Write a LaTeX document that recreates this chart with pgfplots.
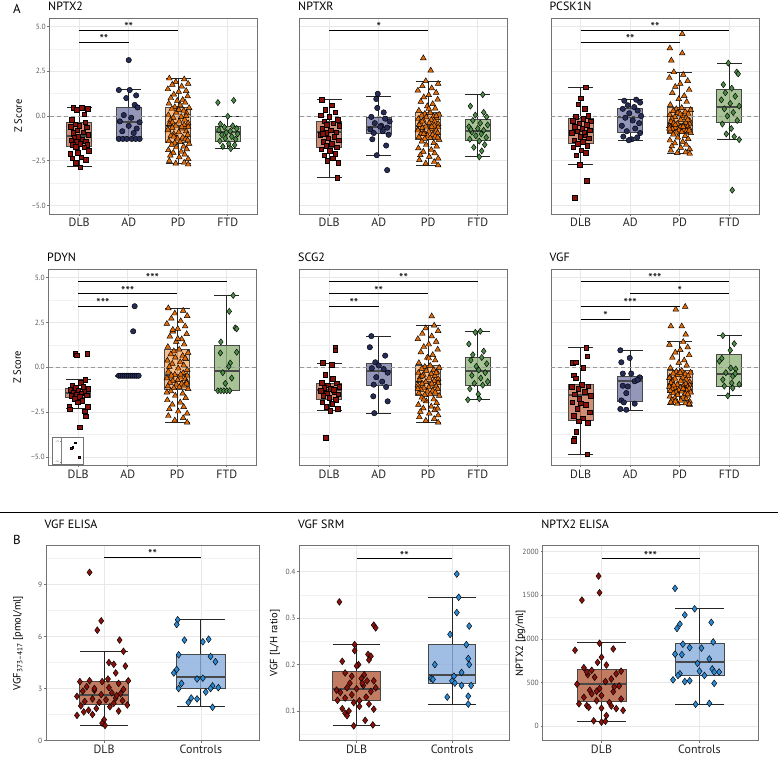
\documentclass[border=0pt]{standalone}
\usepackage{fontspec}
\setmainfont{PT Sans}
\usepackage{pgfplots}
\pgfplotsset{compat=1.18}

\definecolor{dlbfill}{RGB}{196,114,84}
\definecolor{dlbfillB}{RGB}{179,91,59}
\definecolor{dlbpt}{RGB}{139,18,10}
\definecolor{adfill}{RGB}{121,124,169}
\definecolor{adpt}{RGB}{38,44,88}
\definecolor{pdfill}{RGB}{244,174,111}
\definecolor{pdpt}{RGB}{226,108,8}
\definecolor{ftdfill}{RGB}{146,181,124}
\definecolor{ftdpt}{RGB}{76,142,72}
\definecolor{ctrlfill}{RGB}{136,174,221}
\definecolor{ctrlpt}{RGB}{44,138,212}
\definecolor{boxline}{RGB}{72,72,72}

\pgfplotsset{
  base/.style={
    scale only axis,
    grid=both, tick pos=left,
    every axis title shift=0pt,
    major grid style={draw=black!9, line width=0.7pt},
    minor grid style={draw=black!5, line width=0.5pt},
    axis line style={draw=black!55, line width=0.8pt},
    tick align=outside, major tick length=2.2pt, minor tick length=0pt,
    tick style={draw=black!55, line width=0.6pt},
    x tick label style={font=\fontsize{12}{13}\selectfont, text=black!85, inner sep=2pt},
    y tick label style={font=\fontsize{7.5}{8}\selectfont, text=black!65, inner sep=1.5pt},
    title style={at={(0,1)}, anchor=south west, inner sep=0pt, yshift=7pt, xshift=-1.5pt, font=\fontsize{12}{13}\selectfont},
    ylabel style={font=\fontsize{10.5}{11}\selectfont, anchor=center},
  },
  apanel/.style={base, width=208pt, height=196pt, anchor=south west,
    xmin=0.4, xmax=4.6, ymin=-5.47, ymax=5.47,
    xtick={1,2,3,4}, xticklabels={DLB,AD,PD,FTD},
    ytick={-5,-2.5,0,2.5,5}, minor ytick={-3.75,-1.25,1.25,3.75},
    yticklabels={−5.0,−2.5,0.0,2.5,5.0}},
  noy/.style={yticklabels={}, y tick style={draw=none}},
  bpanel/.style={base, height=195pt, anchor=south west,
    xmin=0.4, xmax=2.6, xtick={1,2}, xticklabels={DLB,Controls},
    title style={yshift=9.5pt}},
  whisk/.style={draw=black!85, line width=0.9pt},
  dlbm/.style={only marks, mark=square*, mark size=2.3pt, mark options={solid, fill=dlbpt, draw=black, line width=0.45pt}},
  adm/.style={only marks, mark=*, mark size=2.7pt, mark options={solid, fill=adpt, draw=black, line width=0.45pt}},
  pdm/.style={only marks, mark=triangle*, mark size=3.3pt, mark options={solid, fill=pdpt, draw=black, line width=0.45pt}},
  ftdm/.style={only marks, mark=diamond*, mark size=3.1pt, mark options={solid, fill=ftdpt, draw=black, line width=0.45pt}},
  bdlbm/.style={only marks, mark=diamond*, mark size=3.4pt, mark options={solid, fill=dlbpt, draw=black, line width=0.45pt}},
  ctrlm/.style={only marks, mark=diamond*, mark size=3.4pt, mark options={solid, fill=ctrlpt, draw=black, line width=0.45pt}},
}

% #1 pos, #2 left, #3 right, #4 fill, #5 lower whisker, #6 Q1, #7 median, #8 Q3, #9 upper whisker
\newcommand{\bx}[9]{%
  \addplot[whisk] coordinates {(#1,#5) (#1,#9)};
  \addplot[whisk] coordinates {(#2,#5) (#3,#5)};
  \addplot[whisk] coordinates {(#2,#9) (#3,#9)};
  \addplot[draw=boxline, line width=0.9pt, fill=#4, fill opacity=0.8] coordinates {(#2,#6) (#3,#6) (#3,#8) (#2,#8)} -- cycle;
  \addplot[draw=boxline, line width=2pt] coordinates {(#2,#7) (#3,#7)};
}
% #1 from, #2 to, #3 mid, #4 y, #5 label
\newcommand{\sig}[5]{%
  \addplot[black, line width=0.85pt] coordinates {(#1,#4) (#2,#4)};
  \node[font=\fontsize{12.5}{12}\selectfont, anchor=south, inner sep=0pt, yshift=-1.5pt] at (axis cs:#3,#4) {#5};
}
\newcommand{\zl}{\addplot[draw=black!40, dash pattern=on 4pt off 3pt, line width=0.9pt] coordinates {(0.4,0) (4.6,0)};}

\begin{document}
\begin{tikzpicture}[x=1pt,y=1pt]
\path[use as bounding box] (0,0) rectangle (778,757);
\node[font=\fontsize{13}{13}\selectfont] at (17,748) {A};
\node[font=\fontsize{13}{13}\selectfont] at (17,217) {B};
\draw[line width=1.2pt] (0,244.3) -- (778,244.3);

%================ NPTX2
\begin{axis}[apanel, at={(49.5pt,543pt)}, title={NPTX2}, ylabel={Z Score}, ylabel style={at={(axis description cs:-0.15,0.5)}}]
\bx{1}{0.75}{1.25}{dlbfill}{-2.8}{-1.69}{-1.13}{-0.35}{0.48}
\bx{2}{1.75}{2.25}{adfill}{-1.28}{-1.28}{-0.35}{0.48}{1.5}
\bx{3}{2.75}{3.25}{pdfill}{-2.65}{-1.47}{-0.54}{0.5}{2.08}
\bx{4}{3.75}{4.25}{ftdfill}{-1.82}{-1.41}{-0.89}{-0.58}{-0.02}
\zl
\sig{1}{3}{2}{4.8}{**}
\sig{1}{2}{1.5}{4.1}{**}
\addplot[dlbm] coordinates {(0.88,0.45)(1.05,0.47)(1.17,0.42)(0.95,0.35)(1.1,0.1)(0.85,-0.2)(1.12,-0.35)(0.92,-0.45)(1.0,-0.55)(0.83,-0.6)(1.15,-0.62)(0.96,-0.8)(1.08,-0.9)(0.88,-1.0)(1.18,-1.05)(0.98,-1.15)(0.9,-1.2)(1.06,-1.3)(0.84,-1.35)(1.13,-1.4)(0.95,-1.45)(1.02,-1.55)(0.87,-1.62)(1.16,-1.6)(0.93,-1.7)(1.1,-1.75)(0.82,-2.1)(0.97,-2.05)(1.19,-1.95)(0.86,-2.35)(1.04,-2.3)(1.13,-2.45)(0.93,-2.6)(1.02,-2.85)(0.88,-0.95)};
\addplot[adm] coordinates {(2.0,3.12)(1.8,1.45)(2.02,1.45)(2.15,1.15)(1.95,1.0)(2.12,0.62)(2.18,0.48)(1.9,0.05)(2.05,-0.1)(1.82,-0.3)(2.22,-0.35)(2.0,-0.55)(2.16,-0.7)(1.87,-0.85)(2.1,-0.95)(1.8,-1.28)(1.88,-1.28)(1.96,-1.28)(2.06,-1.28)(2.14,-1.28)(2.22,-1.28)};
\addplot[pdm] coordinates {(2.82,2.1)(3.12,2.05)(2.95,1.9)(3.2,1.8)(2.88,1.75)(3.07,1.65)(2.79,1.5)(3.16,1.4)(3.01,1.35)(2.91,1.2)(3.19,1.1)(2.85,1.0)(3.09,0.9)(2.98,0.85)(3.14,0.75)(2.81,0.7)(3.04,0.6)(2.93,0.5)(3.22,0.45)(2.87,0.4)(3.11,0.3)(2.96,0.2)(3.17,0.15)(2.8,0.05)(3.06,-0.05)(2.9,-0.1)(3.13,-0.2)(2.84,-0.25)(3.02,-0.3)(3.2,-0.4)(2.82,-0.45)(3.12,-0.5)(2.95,-0.55)(3.2,-0.6)(2.88,-0.65)(3.07,-0.7)(2.79,-0.8)(3.16,-0.85)(3.01,-0.9)(2.91,-1.0)(3.19,-1.05)(2.85,-1.1)(3.09,-1.2)(2.98,-1.25)(3.14,-1.3)(2.81,-1.4)(3.04,-1.45)(2.93,-1.5)(3.22,-1.55)(2.87,-1.6)(3.11,-1.7)(2.96,-1.75)(3.17,-1.85)(2.8,-1.9)(3.06,-2.0)(2.9,-2.05)(3.13,-2.15)(2.84,-2.2)(3.02,-2.3)(3.2,-2.4)(2.82,-2.5)(3.12,-2.6)(2.95,-2.65)(3.2,-2.7)(2.88,-0.35)(3.07,-0.6)(2.79,-0.75)(3.16,0.0)(3.01,0.35)(2.91,-1.15)(3.19,-1.35)};
\addplot[ftdm] coordinates {(3.8,0.75)(4.12,0.87)(4.0,-0.02)(3.85,-0.45)(4.1,-0.55)(3.93,-0.62)(4.18,-0.7)(3.82,-0.78)(4.05,-0.85)(3.97,-0.92)(4.2,-1.0)(3.88,-1.05)(4.08,-1.15)(3.95,-1.25)(4.16,-1.3)(3.84,-1.4)(4.02,-1.55)(4.14,-1.62)(3.9,-1.7)(4.06,-1.82)};
\end{axis}

%================ NPTXR
\begin{axis}[apanel, noy, at={(299.5pt,543pt)}, title={NPTXR}]
\bx{1}{0.75}{1.25}{dlbfill}{-3.45}{-1.78}{-0.91}{-0.3}{0.91}
\bx{2}{1.75}{2.25}{adfill}{-2.19}{-1.0}{-0.61}{-0.07}{1.09}
\bx{3}{2.75}{3.25}{pdfill}{-2.75}{-1.32}{-0.58}{0.17}{1.95}
\bx{4}{3.75}{4.25}{ftdfill}{-2.28}{-1.37}{-0.85}{-0.17}{1.19}
\zl
\sig{1}{3}{2}{4.8}{*}
\addplot[dlbm] coordinates {(0.85,0.9)(1.05,0.6)(0.92,0.35)(1.12,0.2)(0.83,0.05)(1.0,-0.05)(1.17,-0.2)(0.9,-0.3)(1.08,-0.4)(0.95,-0.5)(1.2,-0.55)(0.86,-0.7)(1.03,-0.8)(1.14,-0.9)(0.93,-0.95)(0.82,-1.05)(1.1,-1.15)(0.98,-1.25)(1.19,-1.35)(0.88,-1.45)(1.05,-1.55)(0.94,-1.65)(1.15,-1.75)(0.84,-1.85)(1.01,-1.95)(1.12,-2.1)(0.9,-2.2)(1.07,-2.35)(0.96,-2.5)(1.18,-2.6)(1.16,-3.45)(0.87,-1.0)};
\addplot[adm] coordinates {(1.98,1.24)(1.95,0.95)(1.97,0.45)(2.1,0.2)(1.85,-0.05)(2.13,-0.15)(2.22,-0.3)(1.92,-0.4)(2.05,-0.55)(2.17,-0.65)(1.83,-0.75)(2.08,-0.85)(1.9,-0.95)(2.2,-1.05)(1.87,-1.3)(2.15,-1.65)(1.96,-2.19)(2.17,-3.02)(2.03,-0.6)};
\addplot[pdm] coordinates {(2.9,3.23)(3.05,2.54)(2.95,1.95)(3.2,1.8)(2.88,1.67)(3.07,1.55)(2.79,1.42)(3.16,1.3)(3.01,1.17)(2.91,1.05)(3.19,0.92)(2.85,0.8)(3.09,0.67)(2.98,0.55)(3.14,0.42)(2.81,0.3)(3.04,0.17)(2.93,0.12)(3.22,0.08)(2.87,0.03)(3.11,-0.02)(2.96,-0.07)(3.17,-0.11)(2.8,-0.16)(3.06,-0.21)(2.9,-0.25)(3.13,-0.3)(2.84,-0.35)(3.02,-0.39)(3.2,-0.44)(2.82,-0.49)(3.12,-0.53)(2.95,-0.58)(3.2,-0.63)(2.88,-0.67)(3.07,-0.72)(2.79,-0.77)(3.16,-0.81)(3.01,-0.86)(2.91,-0.9)(3.19,-0.95)(2.85,-1.0)(3.09,-1.04)(2.98,-1.09)(3.14,-1.14)(2.81,-1.18)(3.04,-1.23)(2.93,-1.27)(3.22,-1.32)(2.87,-1.42)(3.11,-1.51)(2.96,-1.61)(3.17,-1.7)(2.8,-1.8)(3.06,-1.89)(2.9,-1.99)(3.13,-2.08)(2.84,-2.18)(3.02,-2.27)(3.2,-2.37)(2.82,-2.46)(3.12,-2.56)(2.95,-2.65)(3.2,-2.75)(2.88,-0.3)(3.07,-0.6)(2.79,-0.8)(3.16,0.0)(3.01,0.4)(2.91,-1.0)(3.19,-1.2)};
\addplot[ftdm] coordinates {(4.1,1.19)(3.85,0.55)(4.12,0.2)(3.95,0.05)(4.18,-0.05)(3.9,-0.25)(4.05,-0.4)(4.2,-0.5)(3.82,-0.6)(4.0,-0.7)(4.12,-0.8)(3.88,-0.9)(4.07,-1.0)(3.96,-1.1)(4.17,-1.2)(3.84,-1.3)(4.03,-1.4)(4.14,-1.6)(3.92,-1.75)(4.08,-1.95)(4.03,-2.28)(3.86,-0.75)};
\end{axis}

%================ PCSK1N
\begin{axis}[apanel, noy, at={(551pt,543pt)}, title={PCSK1N}]
\bx{1}{0.75}{1.25}{dlbfill}{-2.71}{-1.54}{-0.83}{-0.15}{1.61}
\bx{2}{1.75}{2.25}{adfill}{-1.35}{-0.91}{-0.06}{0.41}{0.91}
\bx{3}{2.75}{3.25}{pdfill}{-2.1}{-0.95}{-0.43}{0.45}{2.45}
\bx{4}{3.75}{4.25}{ftdfill}{-1.32}{-0.35}{0.52}{1.5}{2.95}
\zl
\sig{1}{4}{2.5}{4.8}{**}
\sig{1}{3}{2}{4.1}{**}
\addplot[dlbm] coordinates {(1.1,1.61)(1.0,1.0)(0.95,0.65)(1.08,0.4)(1.15,0.0)(0.9,-0.05)(1.05,-0.15)(0.84,-0.25)(1.2,-0.3)(0.97,-0.4)(1.12,-0.5)(0.88,-0.6)(1.03,-0.7)(1.18,-0.8)(0.93,-0.85)(0.82,-0.95)(1.09,-1.05)(0.99,-1.15)(1.16,-1.25)(0.87,-1.35)(1.04,-1.45)(0.94,-1.55)(1.13,-1.65)(0.85,-1.75)(1.01,-1.9)(1.1,-2.05)(0.91,-2.2)(0.98,-2.71)(1.12,-3.62)(0.88,-4.56)(1.07,-0.9)};
\addplot[adm] coordinates {(2.12,0.91)(1.88,0.85)(2.2,0.75)(1.95,0.6)(2.08,0.5)(1.85,0.4)(2.15,0.3)(1.98,0.15)(2.22,0.0)(1.9,-0.1)(2.05,-0.25)(2.18,-0.4)(1.83,-0.55)(2.1,-0.7)(1.93,-0.85)(2.2,-0.95)(1.86,-1.15)(2.03,-1.3)(1.97,-1.35)(2.14,-1.2)};
\addplot[pdm] coordinates {(3.05,4.58)(2.8,3.78)(3.05,3.5)(2.83,3.1)(2.88,2.45)(3.07,2.3)(2.79,2.13)(3.16,1.96)(3.01,1.8)(2.91,1.63)(3.19,1.46)(2.85,1.29)(3.09,1.12)(2.98,0.95)(3.14,0.79)(2.81,0.62)(3.04,0.45)(2.93,0.39)(3.22,0.34)(2.87,0.28)(3.11,0.23)(2.96,0.17)(3.17,0.12)(2.8,0.06)(3.06,0.01)(2.9,-0.05)(3.13,-0.1)(2.84,-0.16)(3.02,-0.21)(3.2,-0.27)(2.82,-0.32)(3.12,-0.38)(2.95,-0.43)(3.2,-0.46)(2.88,-0.5)(3.07,-0.53)(2.79,-0.56)(3.16,-0.59)(3.01,-0.63)(2.91,-0.66)(3.19,-0.69)(2.85,-0.72)(3.09,-0.76)(2.98,-0.79)(3.14,-0.82)(2.81,-0.85)(3.04,-0.89)(2.93,-0.92)(3.22,-0.95)(2.87,-1.03)(3.11,-1.11)(2.96,-1.2)(3.17,-1.28)(2.8,-1.36)(3.06,-1.44)(2.9,-1.52)(3.13,-1.61)(2.84,-1.69)(3.02,-1.77)(3.2,-1.85)(2.82,-1.93)(3.12,-2.02)(2.95,-2.06)(3.2,-2.1)(2.88,-0.4)(3.07,-0.6)(2.79,-0.7)(3.16,-0.2)(3.01,0.1)(2.91,-0.5)(3.19,-0.8)};
\addplot[ftdm] coordinates {(3.98,2.95)(4.15,2.45)(4.18,2.35)(3.88,1.75)(4.05,1.55)(3.92,1.3)(4.12,1.1)(3.84,0.9)(4.02,0.7)(4.2,0.55)(3.9,0.4)(4.08,0.2)(3.96,0.0)(4.16,-0.25)(3.86,-0.45)(4.04,-0.7)(3.94,-1.0)(4.1,-1.15)(4.2,-1.32)(4.06,-4.14)};
\end{axis}

%================ PDYN
\begin{axis}[apanel, at={(48.5pt,291.7pt)}, title={PDYN}, ylabel={Z Score}, ylabel style={at={(axis description cs:-0.15,0.5)}}]
\bx{1}{0.75}{1.25}{dlbfill}{-2.28}{-1.68}{-1.44}{-1.19}{-0.69}
\bx{2}{1.75}{2.25}{adfill}{-0.47}{-0.47}{-0.47}{-0.47}{-0.47}
\bx{3}{2.75}{3.25}{pdfill}{-3.08}{-1.21}{-0.41}{0.99}{3.3}
\bx{4}{3.75}{4.25}{ftdfill}{-1.31}{-1.31}{-0.19}{1.23}{4.01}
\zl
\sig{1}{4}{2.5}{4.81}{***}
\sig{1}{3}{2}{4.1}{***}
\sig{1}{2}{1.5}{3.4}{***}
\addplot[dlbm] coordinates {(0.94,0.76)(0.97,0.67)(1.18,0.76)(1.14,-0.69)(1.05,-0.85)(0.88,-1.0)(1.1,-1.1)(0.95,-1.15)(1.2,-1.2)(0.84,-1.25)(1.0,-1.3)(1.12,-1.35)(0.9,-1.4)(1.06,-1.45)(0.97,-1.5)(1.17,-1.55)(0.86,-1.6)(1.03,-1.65)(0.93,-1.75)(1.08,-1.85)(0.82,-2.2)(0.83,-2.35)(1.19,-2.2)(1.13,-2.46)(1.15,-2.74)(1.03,-3.34)(0.99,-1.95)};
\addplot[adm] coordinates {(1.82,-0.47)(1.86,-0.47)(1.9,-0.47)(1.94,-0.47)(1.98,-0.47)(2.02,-0.47)(2.06,-0.47)(2.1,-0.47)(2.14,-0.47)(2.18,-0.47)(2.22,-0.47)(2.11,2.01)(2.14,3.41)};
\addplot[pdm] coordinates {(2.82,3.3)(3.12,3.16)(2.95,3.01)(3.2,2.87)(2.88,2.72)(3.07,2.58)(2.79,2.43)(3.16,2.29)(3.01,2.15)(2.91,2.0)(3.19,1.86)(2.85,1.72)(3.09,1.57)(2.98,1.43)(3.14,1.28)(2.81,1.14)(3.04,0.99)(2.93,0.9)(3.22,0.81)(2.87,0.73)(3.11,0.64)(2.96,0.55)(3.17,0.46)(2.8,0.38)(3.06,0.29)(2.9,0.2)(3.13,0.11)(2.84,0.03)(3.02,-0.06)(3.2,-0.15)(2.82,-0.24)(3.12,-0.32)(2.95,-0.41)(3.2,-0.46)(2.88,-0.51)(3.07,-0.56)(2.79,-0.61)(3.16,-0.66)(3.01,-0.71)(2.91,-0.76)(3.19,-0.81)(2.85,-0.86)(3.09,-0.91)(2.98,-0.96)(3.14,-1.01)(2.81,-1.06)(3.04,-1.11)(2.93,-1.16)(3.22,-1.21)(2.87,-1.33)(3.11,-1.46)(2.96,-1.58)(3.17,-1.71)(2.8,-1.83)(3.06,-1.96)(2.9,-2.08)(3.13,-2.21)(2.84,-2.33)(3.02,-2.46)(3.2,-2.58)(2.82,-2.71)(3.12,-2.83)(2.95,-2.96)(3.2,-3.08)(2.88,-0.45)(3.07,-0.4)(2.79,-1.4)(3.16,0.5)(3.01,1.6)(2.91,2.1)(3.19,-0.9)};
\addplot[ftdm] coordinates {(4.13,4.01)(4.05,3.12)(4.17,2.2)(4.2,2.15)(3.88,1.42)(4.2,0.84)(3.87,0.8)(4.07,0.24)(4.04,0.05)(3.92,-0.3)(4.1,-0.6)(3.97,-0.9)(3.82,-1.31)(3.88,-1.31)(3.94,-1.31)(4.0,-1.31)(4.06,-1.31)};
\end{axis}
% inset in PDYN
\begin{axis}[scale only axis, at={(51.7pt,293pt)}, anchor=south west, width=31.6pt, height=26.7pt,
  xmin=0, xmax=1, ymin=0, ymax=1, xtick=\empty, ytick=\empty,
  axis line style={draw=black!55, line width=0.4pt}, axis background/.style={fill=white}]
\addplot[draw=black!50, line width=0.3pt] coordinates {(0.3,0) (0.3,1)};
\addplot[draw=black!50, line width=0.3pt] coordinates {(0.26,0.85) (0.3,0.85)};
\addplot[draw=black!50, line width=0.3pt] coordinates {(0.26,0.08) (0.3,0.08)};
\node[font=\fontsize{2.5}{3}\selectfont, text=black!60, anchor=east, inner sep=0.3pt] at (axis cs:0.25,0.85) {−25};
\node[font=\fontsize{2.5}{3}\selectfont, text=black!60, anchor=east, inner sep=0.3pt] at (axis cs:0.25,0.08) {−50};
\addplot[only marks, mark=square*, mark size=0.9pt, mark options={fill=dlbpt, draw=black, line width=0.2pt}] coordinates {(0.62,0.6)(0.66,0.64)(0.74,0.8)(0.86,0.27)};
\end{axis}

%================ SCG2
\begin{axis}[apanel, noy, at={(299.5pt,291.7pt)}, title={SCG2}]
\bx{1}{0.75}{1.25}{dlbfill}{-2.43}{-1.77}{-1.25}{-0.91}{0.24}
\bx{2}{1.75}{2.25}{adfill}{-2.56}{-1.0}{-0.19}{0.24}{1.74}
\bx{3}{2.75}{3.25}{pdfill}{-3.08}{-1.59}{-0.82}{0.09}{2.33}
\bx{4}{3.75}{4.25}{ftdfill}{-1.81}{-1.03}{-0.22}{0.56}{2.01}
\zl
\sig{1}{4}{2.5}{4.81}{**}
\sig{1}{3}{2}{4.1}{**}
\sig{1}{2}{1.5}{3.4}{**}
\addplot[dlbm] coordinates {(1.12,1.08)(1.12,0.95)(0.87,0.24)(1.05,0.15)(0.92,-0.4)(1.07,-0.65)(0.85,-0.85)(1.15,-0.9)(0.97,-1.0)(1.2,-1.1)(0.9,-1.15)(1.03,-1.2)(0.83,-1.3)(1.1,-1.35)(0.95,-1.45)(1.18,-1.5)(0.88,-1.6)(1.0,-1.7)(1.13,-1.8)(0.86,-1.95)(1.06,-2.05)(0.94,-2.2)(1.17,-2.3)(1.02,-2.43)(0.93,-3.92)(1.09,-1.25)};
\addplot[adm] coordinates {(1.85,1.74)(1.82,1.12)(2.13,0.65)(1.93,0.28)(2.0,0.1)(1.86,-0.05)(2.1,-0.1)(2.18,-0.3)(1.95,-0.55)(2.07,-0.8)(1.9,-0.97)(2.15,-1.1)(1.89,-1.62)(2.18,-1.9)(1.91,-2.56)};
\addplot[pdm] coordinates {(3.07,2.85)(3.12,2.33)(2.95,2.18)(3.2,2.03)(2.88,1.88)(3.07,1.73)(2.79,1.58)(3.16,1.43)(3.01,1.28)(2.91,1.14)(3.19,0.99)(2.85,0.84)(3.09,0.69)(2.98,0.54)(3.14,0.39)(2.81,0.24)(3.04,0.09)(2.93,0.03)(3.22,-0.02)(2.87,-0.08)(3.11,-0.14)(2.96,-0.19)(3.17,-0.25)(2.8,-0.31)(3.06,-0.37)(2.9,-0.42)(3.13,-0.48)(2.84,-0.54)(3.02,-0.59)(3.2,-0.65)(2.82,-0.71)(3.12,-0.76)(2.95,-0.82)(3.2,-0.87)(2.88,-0.92)(3.07,-0.96)(2.79,-1.01)(3.16,-1.06)(3.01,-1.11)(2.91,-1.16)(3.19,-1.21)(2.85,-1.25)(3.09,-1.3)(2.98,-1.35)(3.14,-1.4)(2.81,-1.45)(3.04,-1.5)(2.93,-1.54)(3.22,-1.59)(2.87,-1.69)(3.11,-1.79)(2.96,-1.89)(3.17,-1.99)(2.8,-2.09)(3.06,-2.19)(2.9,-2.29)(3.13,-2.38)(2.84,-2.48)(3.02,-2.58)(3.2,-2.68)(2.82,-2.78)(3.12,-2.88)(2.95,-2.98)(3.2,-3.08)(2.88,-0.5)(3.07,-0.9)(2.79,-1.2)(3.16,-0.3)(3.01,0.5)(2.91,-1.8)(3.19,-2.3)};
\addplot[ftdm] coordinates {(4.05,2.01)(3.95,1.95)(3.82,1.3)(4.12,0.9)(3.9,0.7)(4.08,0.55)(3.86,0.4)(4.18,0.2)(3.97,0.05)(4.02,-0.15)(4.15,-0.3)(3.88,-0.45)(4.06,-0.6)(4.2,-0.8)(3.93,-0.9)(4.1,-1.0)(3.84,-1.2)(4.01,-1.5)(3.8,-1.81)(4.03,-1.75)};
\end{axis}

%================ VGF
\begin{axis}[apanel, noy, at={(551pt,291.7pt)}, title={VGF}]
\bx{1}{0.75}{1.25}{dlbfill}{-4.85}{-2.99}{-1.57}{-0.93}{1.08}
\bx{2}{1.75}{2.25}{adfill}{-2.41}{-1.9}{-0.78}{-0.5}{0.95}
\bx{3}{2.75}{3.25}{pdfill}{-2.09}{-1.4}{-0.97}{-0.19}{1.42}
\bx{4}{3.75}{4.25}{ftdfill}{-1.59}{-1.06}{-0.35}{0.73}{1.77}
\zl
\sig{1}{4}{2.5}{4.81}{***}
\sig{2}{4}{3}{4.1}{*}
\sig{1}{3}{2}{3.4}{***}
\sig{1}{2}{1.5}{2.7}{*}
\addplot[dlbm] coordinates {(1.11,1.08)(1.13,0.62)(0.84,0.24)(0.9,0.28)(1.05,-0.04)(0.86,-0.45)(0.9,-0.6)(1.02,-0.97)(0.82,-1.1)(1.15,-1.05)(0.95,-1.2)(1.08,-1.35)(0.88,-1.5)(1.2,-1.6)(0.97,-1.75)(0.83,-1.95)(1.1,-2.1)(0.93,-2.3)(1.18,-2.5)(0.86,-2.7)(1.04,-2.85)(0.96,-3.0)(1.14,-3.1)(0.91,-3.58)(0.87,-3.96)(0.86,-4.1)(1.13,-4.85)(1.0,-2.0)};
\addplot[adm] coordinates {(1.8,0.95)(1.99,0.52)(1.82,0.28)(1.85,-0.35)(2.02,-0.35)(2.19,-0.56)(2.09,-0.78)(1.85,-1.03)(1.95,-1.07)(1.92,-1.44)(1.82,-1.85)(1.87,-1.96)(2.09,-2.03)(1.8,-2.33)(1.92,-2.37)(2.15,-0.7)};
\addplot[pdm] coordinates {(3.11,3.38)(2.92,3.23)(2.82,2.29)(3.04,2.29)(3.12,1.83)(3.07,1.42)(2.79,1.26)(3.16,1.12)(3.01,0.97)(2.91,0.83)(3.19,0.68)(2.85,0.54)(3.09,0.39)(2.98,0.25)(3.14,0.1)(2.81,-0.04)(3.04,-0.19)(2.93,-0.24)(3.22,-0.29)(2.87,-0.34)(3.11,-0.38)(2.96,-0.43)(3.17,-0.48)(2.8,-0.53)(3.06,-0.58)(2.9,-0.63)(3.13,-0.68)(2.84,-0.73)(3.02,-0.77)(3.2,-0.82)(2.82,-0.87)(3.12,-0.92)(2.95,-0.97)(3.2,-1.0)(2.88,-1.02)(3.07,-1.05)(2.79,-1.08)(3.16,-1.1)(3.01,-1.13)(2.91,-1.16)(3.19,-1.19)(2.85,-1.21)(3.09,-1.24)(2.98,-1.27)(3.14,-1.29)(2.81,-1.32)(3.04,-1.35)(2.93,-1.37)(3.22,-1.4)(2.87,-1.45)(3.11,-1.49)(2.96,-1.54)(3.17,-1.58)(2.8,-1.63)(3.06,-1.68)(2.9,-1.72)(3.13,-1.77)(2.84,-1.82)(3.02,-1.86)(3.2,-1.91)(2.82,-1.95)(3.12,-2.0)(2.95,-2.04)(3.2,-2.09)(2.88,-1.0)(3.07,-1.2)(2.79,-0.6)(3.16,-1.5)(3.01,-0.3)(2.91,-1.9)(3.19,-2.05)};
\addplot[ftdm] coordinates {(3.87,1.77)(4.1,1.32)(4.02,0.95)(3.8,0.34)(3.85,0.5)(4.03,-0.04)(4.13,-0.1)(3.93,-0.3)(4.07,-0.5)(3.87,-0.69)(4.05,-0.88)(4.2,-0.95)(3.9,-1.05)(4.07,-1.16)(3.97,-1.59)(4.12,-0.35)};
\end{axis}

%================ B: VGF ELISA
\begin{axis}[bpanel, at={(46pt,16.5pt)}, width=213pt, ymin=0, ymax=11.26,
  ytick={0,3,6,9}, yticklabels={0,3,6,9}, minor ytick={1.5,4.5,7.5,10.5},
  title={VGF ELISA}, ylabel={VGF\textsubscript{373–417} [pmol/ml]}, ylabel style={at={(axis description cs:-0.131,0.5)}}]
\bx{1}{0.75}{1.25}{dlbfillB}{0.87}{2.11}{2.61}{3.43}{5.17}
\bx{2}{1.75}{2.25}{ctrlfill}{1.94}{3.02}{3.68}{4.97}{6.97}
\sig{1}{2}{1.5}{10.56}{**}
\addplot[bdlbm] coordinates {(0.85,9.71)(0.97,6.91)(0.93,6.37)(1.16,5.8)(1.2,5.15)(1.05,4.5)(1.1,4.4)(1.22,4.3)(1.12,3.9)(1.04,3.55)(0.85,3.45)(0.98,3.4)(1.25,3.45)(0.75,3.4)(1.15,3.3)(0.82,3.1)(1.05,3.05)(1.2,2.95)(0.9,2.9)(0.78,2.85)(1.08,2.75)(1.17,2.7)(0.97,2.65)(0.72,2.55)(1.12,2.45)(0.88,2.4)(1.02,2.35)(1.19,2.3)(0.8,2.25)(0.95,2.2)(1.24,2.05)(0.76,2.0)(1.06,1.95)(0.92,1.85)(0.84,1.75)(1.15,1.7)(0.88,1.5)(0.72,1.45)(1.0,1.2)(0.98,1.0)(1.01,0.87)(0.79,1.65)(1.1,2.15)(0.9,3.0)(1.13,2.6)};
\addplot[ctrlm] coordinates {(1.76,6.97)(1.75,6.7)(1.83,5.8)(2.08,5.85)(2.02,5.7)(1.77,4.95)(2.1,4.85)(2.15,4.55)(1.75,4.1)(1.72,3.9)(2.02,3.6)(1.8,3.3)(2.12,3.15)(2.18,3.05)(1.77,3.0)(2.1,3.0)(2.05,2.8)(1.9,2.45)(1.96,2.4)(1.87,2.2)(2.12,1.92)(1.96,3.55)};
\end{axis}

%================ B: VGF SRM
\begin{axis}[bpanel, at={(299.3pt,16.5pt)}, width=210pt, ymin=0.0365, ymax=0.4565,
  ytick={0.1,0.2,0.3,0.4}, yticklabels={0.1,0.2,0.3,0.4}, minor ytick={0.05,0.15,0.25,0.35,0.45},
  title={VGF SRM}, ylabel={VGF [L/H ratio]}, ylabel style={at={(axis description cs:-0.116,0.5)}}]
\bx{1}{0.75}{1.25}{dlbfillB}{0.068}{0.123}{0.147}{0.186}{0.243}
\bx{2}{1.75}{2.25}{ctrlfill}{0.115}{0.16}{0.178}{0.243}{0.345}
\sig{1}{2}{1.5}{0.428}{**}
\addplot[bdlbm] coordinates {(0.82,0.335)(1.18,0.285)(1.2,0.279)(0.98,0.243)(0.98,0.23)(1.12,0.222)(1.15,0.218)(1.13,0.21)(0.85,0.207)(1.02,0.2)(1.0,0.197)(0.88,0.182)(1.08,0.178)(1.05,0.17)(1.18,0.165)(0.93,0.16)(1.11,0.165)(0.79,0.145)(1.2,0.15)(1.07,0.155)(0.9,0.15)(1.0,0.148)(1.15,0.142)(0.83,0.14)(0.95,0.135)(1.1,0.13)(0.88,0.128)(1.03,0.122)(0.8,0.123)(0.97,0.118)(1.13,0.115)(0.85,0.105)(0.92,0.1)(0.88,0.095)(1.18,0.104)(1.03,0.11)(0.9,0.09)(1.09,0.08)(0.97,0.068)(1.17,0.07)(1.06,0.16)(0.95,0.175)};
\addplot[ctrlm] coordinates {(2.05,0.395)(2.07,0.345)(2.05,0.312)(2.18,0.283)(1.98,0.265)(2.15,0.243)(2.17,0.213)(2.18,0.2)(1.82,0.2)(2.1,0.183)(1.78,0.17)(1.8,0.168)(2.02,0.175)(2.0,0.165)(2.03,0.16)(2.1,0.155)(2.2,0.155)(1.95,0.13)(2.17,0.132)(2.17,0.115)};
\end{axis}

%================ B: NPTX2 ELISA
\begin{axis}[bpanel, at={(542.7pt,16.5pt)}, width=215.6pt, ymin=-166, ymax=2072,
  ytick={0,500,1000,1500,2000}, yticklabels={0,500,1000,1500,2000}, minor ytick={250,750,1250,1750},
  title={NPTX2 ELISA}, ylabel={NPTX2 [pg/ml]}, ylabel style={at={(axis description cs:-0.102,0.5)}}]
\bx{1}{0.75}{1.25}{dlbfillB}{57}{287}{478}{650}{956}
\bx{2}{1.75}{2.25}{ctrlfill}{249}{585}{730}{952}{1350}
\sig{1}{2}{1.5}{1920}{***}
\addplot[bdlbm] coordinates {(0.97,1721)(0.98,1530)(0.8,1445)(0.98,950)(0.73,870)(1.12,885)(1.0,790)(0.96,730)(1.05,700)(0.82,670)(0.9,640)(1.2,630)(1.15,600)(0.86,590)(0.93,560)(1.1,540)(1.04,510)(0.75,480)(1.18,460)(0.98,430)(0.88,410)(1.12,395)(0.9,370)(1.0,350)(0.82,330)(1.2,310)(0.95,290)(1.08,270)(0.77,255)(0.85,235)(0.87,215)(1.0,205)(1.15,200)(1.22,180)(1.1,230)(1.05,120)(0.92,60)(1.0,45)(1.04,55)(0.95,400)(1.13,450)(0.85,620)};
\addplot[ctrlm] coordinates {(1.75,1580)(1.95,1345)(1.85,1275)(1.8,1170)(1.77,1120)(2.12,1190)(1.83,940)(2.14,965)(2.02,895)(1.9,900)(1.75,825)(1.82,820)(2.1,770)(1.98,720)(2.13,655)(2.15,620)(1.8,600)(1.78,580)(2.0,630)(2.05,580)(1.73,530)(1.85,510)(1.9,520)(2.15,490)(1.96,250)(2.1,260)(2.2,620)};
\end{axis}
\end{tikzpicture}
\end{document}
